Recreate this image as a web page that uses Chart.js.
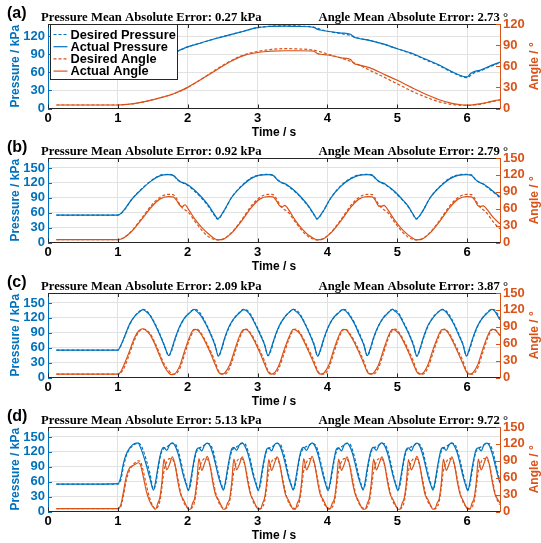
<!DOCTYPE html>
<html>
<head>
<meta charset="utf-8">
<script src="https://cdn.jsdelivr.net/npm/chart.js@4/dist/chart.umd.min.js"></script>
<style>
  html, body { margin: 0; padding: 0; background: #fff; width: 541px; height: 543px; overflow: hidden; }
  canvas { position: absolute; left: 0; }
</style>
</head>
<body>
<canvas id="pa" width="541" height="145" style="top:0px"></canvas>
<canvas id="pb" width="541" height="145" style="top:134px"></canvas>
<canvas id="pc" width="541" height="145" style="top:269px"></canvas>
<canvas id="pd" width="541" height="145" style="top:403px"></canvas>
<script>
// ---- labels / ticks ----
const xTicks = [0, 1, 2, 3, 4, 5, 6];
const pressureTicksA = [0, 30, 60, 90, 120];
const angleTicksA = [0, 30, 60, 90, 120];
const pressureTicks = [0, 30, 60, 90, 120, 150];
const angleTicks = [0, 30, 60, 90, 120, 150];
const panelTags = ['(a)', '(b)', '(c)', '(d)'];
const pressureErrors = ['0.27', '0.92', '2.09', '5.13'];
const angleErrors = ['2.73', '2.79', '3.87', '9.72'];
const seriesNames = ['Desired Pressure', 'Actual Pressure', 'Desired Angle', 'Actual Angle'];

// ---- panel (a) ----
const timeA = [0.12, 0.5, 1.0, 1.2, 1.4, 1.6, 1.8, 2.0, 2.2, 2.4, 2.6, 2.8, 3.0, 3.2, 3.4, 3.6, 3.8, 3.86, 3.9, 4.0,
  4.2, 4.33, 4.38, 4.45, 4.6, 4.8, 5.0, 5.2, 5.4, 5.6, 5.8, 5.95, 6.0, 6.05, 6.1, 6.2, 6.3, 6.47];
const desPressA = [55, 55, 55, 60, 70, 81, 92, 102, 109, 116, 122, 128, 134, 136.5, 137, 136.5, 135, 133, 131, 128,
  124, 121, 119, 116.5, 113, 106.5, 99, 91, 81, 71, 59, 52, 51, 55, 59, 63, 68, 76];
const actPressA = [55, 55, 55, 60, 70, 81, 92, 102, 109, 116, 122, 128, 134, 136, 136.5, 136, 134.5, 131, 130, 128,
  125, 123, 118, 116, 113, 107, 99, 92, 82, 72, 60, 53, 52.5, 58, 61, 64, 69, 77];
const desAngleA = [5, 5, 5, 6.5, 10, 15, 21, 30, 42, 55, 67, 76, 81, 84, 85, 84.5, 83, 81.5, 80.5, 77.5,
  71.5, 67, 65, 62, 54.5, 45, 35, 25, 16.5, 9.5, 5.5, 4.3, 4.3, 4.5, 5, 6, 8.5, 12];
const actAngleA = [5, 5, 5, 6.5, 10, 15, 21, 30, 42, 54, 66, 75, 79.5, 81.5, 82, 82, 81.5, 78, 77, 76,
  72, 69.5, 64, 62, 58, 49, 40, 30, 20.5, 12.5, 7, 5, 4.8, 5, 5.5, 7, 9, 12.8];

// ---- panel (b) ----
const timeB = [0.12, 0.6,
  1.0, 1.08, 1.2, 1.34, 1.48, 1.6, 1.72, 1.79, 1.84, 1.88, 1.92, 1.96, 2.02, 2.1, 2.2, 2.3, 2.38,
  2.43, 2.51, 2.63, 2.77, 2.91, 3.03, 3.15, 3.22, 3.27, 3.31, 3.35, 3.39, 3.45, 3.53, 3.63, 3.73, 3.81,
  3.85, 3.93, 4.05, 4.19, 4.33, 4.45, 4.57, 4.64, 4.69, 4.73, 4.77, 4.81, 4.87, 4.95, 5.05, 5.15, 5.23,
  5.27, 5.35, 5.47, 5.61, 5.75, 5.87, 5.99, 6.06, 6.11, 6.15, 6.19, 6.23, 6.29, 6.37, 6.47];
const desPressB = [55, 55,
  55, 63, 87, 108, 125, 135, 137, 136, 128, 124, 121, 118, 113, 103, 89, 72, 55,
  47, 61, 91, 114, 130, 136, 137, 136, 128, 123.5, 120, 117.5, 112, 103, 89, 72, 55,
  47, 61, 90, 114, 129, 136, 137, 136, 128, 124, 120, 118, 112, 103, 89, 73, 55,
  47, 60, 90, 113, 129, 136, 137, 136, 128, 123, 120, 117, 111, 102, 90];
const actPressB = [55, 55,
  55, 64, 87, 107, 124, 134, 136.5, 135, 129, 123, 121, 119, 114, 105, 91, 74, 57,
  48, 62, 91, 113, 129, 135.5, 136.5, 135, 128, 123, 120.5, 118.5, 113, 104, 90, 73, 56,
  48, 61, 90, 113, 128, 135, 136.5, 135, 129, 123, 121, 119, 113, 104, 90, 74, 56,
  48, 60, 90, 112, 128, 135, 136.5, 135, 128, 123, 120, 118, 112, 103, 92];
const desAngleB = [5, 5,
  5, 8, 21, 43, 66, 80, 85.5, 85, 78, 69, 62, 58, 52, 38, 22, 10, 5.5,
  4.5, 6, 18, 40, 65, 80, 85.5, 85, 78, 69, 62, 58, 52, 38, 22, 10, 5.5,
  4.5, 6, 18, 40, 65, 80, 85.5, 85, 77, 68, 62, 58, 52, 38, 22, 10, 5.5,
  4.5, 6, 18, 40, 65, 80, 85.5, 85, 78, 69, 62, 58, 51, 37, 24];
const actAngleB = [5, 5,
  5, 8, 20, 41, 63, 77, 81.5, 81, 75, 67, 63.5, 67, 57, 42, 27, 15, 7,
  4.7, 6, 17, 38, 62, 77, 81.5, 81, 74, 66, 63, 66, 57, 41, 25, 13, 7,
  4.7, 6, 17, 38, 62, 77, 81.5, 81, 74, 65, 64, 66, 57, 42, 26, 14, 7,
  4.7, 6, 17, 38, 62, 77, 81.5, 81, 75, 66, 64, 65, 58, 45, 33];

// ---- panel (c) ----
const timeC = [0.12, 0.6,
  1.0, 1.04, 1.1, 1.17, 1.24, 1.3, 1.36, 1.4, 1.46, 1.53, 1.6, 1.66,
  1.73, 1.77, 1.82, 1.89, 1.96, 2.03, 2.09, 2.13, 2.19, 2.26, 2.33, 2.39,
  2.44, 2.48, 2.53, 2.6, 2.67, 2.74, 2.8, 2.84, 2.9, 2.97, 3.04, 3.1,
  3.15, 3.19, 3.24, 3.31, 3.38, 3.45, 3.51, 3.55, 3.61, 3.68, 3.75, 3.81,
  3.86, 3.9, 3.95, 4.02, 4.09, 4.16, 4.22, 4.26, 4.32, 4.39, 4.46, 4.52,
  4.57, 4.61, 4.66, 4.73, 4.8, 4.87, 4.93, 4.97, 5.03, 5.1, 5.17, 5.23,
  5.28, 5.32, 5.37, 5.44, 5.51, 5.58, 5.64, 5.68, 5.74, 5.81, 5.88, 5.94,
  5.99, 6.03, 6.08, 6.15, 6.22, 6.29, 6.35, 6.39, 6.47];
const desPressC = [55, 55,
  55, 63, 83, 107, 123, 132, 137, 135, 126, 109, 88, 67,
  44, 54, 77, 103, 120, 131, 137, 136, 127, 109, 88, 67,
  43, 54, 78, 103, 120, 131, 137, 136, 127, 108, 88, 67,
  44, 54, 77, 103, 120, 131, 137, 136, 127, 109, 87, 67,
  43, 54, 77, 104, 120, 131, 137, 136, 126, 109, 88, 67,
  44, 54, 78, 103, 120, 131, 137, 136, 127, 108, 88, 67,
  43, 54, 77, 103, 121, 131, 137, 136, 127, 109, 88, 67,
  44, 54, 77, 103, 120, 131, 137, 136, 119];
const actPressC = [55, 55,
  55, 64, 84, 108, 123, 131, 136.5, 133, 125, 107, 86, 66,
  44, 57, 79, 104, 121, 130, 137, 133, 124, 107, 86, 65,
  43, 56, 80, 105, 120, 130, 136.5, 134, 125, 106, 85, 66,
  44, 57, 79, 104, 120, 131, 137, 133, 125, 107, 86, 65,
  43, 56, 79, 104, 121, 130, 136.5, 134, 124, 107, 85, 66,
  44, 57, 80, 104, 120, 130, 137, 133, 125, 106, 86, 65,
  43, 56, 79, 105, 120, 131, 136.5, 134, 124, 107, 85, 66,
  43, 57, 79, 104, 120, 130, 137, 134, 116];
const desAngleC = [6, 6,
  6, 8, 20, 43, 67, 81, 86, 85, 78, 62, 42, 25,
  12, 7, 6, 17, 43, 69, 84, 86, 79, 64, 46, 29,
  12, 7, 6, 17, 42, 69, 84, 86, 79, 64, 46, 29,
  12, 7, 6, 18, 43, 68, 84, 86, 79, 63, 45, 29,
  12, 7, 6, 17, 43, 69, 84, 86, 78, 64, 46, 29,
  12, 7, 6, 17, 42, 69, 84, 86, 79, 64, 46, 29,
  12, 7, 6, 18, 43, 68, 84, 86, 79, 63, 45, 29,
  12, 7, 6, 17, 43, 69, 84, 86, 74];
const actAngleC = [6, 6,
  6, 10, 26, 48, 71, 83, 86.5, 84, 76, 59, 38, 21,
  8, 5, 7, 22, 49, 73, 85.5, 85, 77, 61, 42, 24,
  10, 6, 8, 22, 48, 73, 85, 85, 77, 61, 42, 24,
  10, 6, 8, 23, 49, 72, 85.5, 84, 77, 60, 41, 24,
  10, 6, 8, 22, 49, 73, 85, 85, 76, 61, 42, 25,
  10, 6, 8, 22, 48, 73, 85.5, 84, 77, 61, 42, 24,
  10, 6, 8, 23, 49, 72, 85, 85, 77, 60, 41, 24,
  10, 6, 8, 22, 49, 73, 85.5, 85, 75];

// ---- panel (d) ----
const timeD = [0.12, 0.6,
  1.0, 1.04, 1.08, 1.12, 1.17, 1.21, 1.25, 1.29, 1.32, 1.36, 1.41, 1.46,
  1.51, 1.54, 1.57, 1.6, 1.63, 1.66, 1.7, 1.74, 1.78, 1.82, 1.86, 1.9, 1.94, 1.98,
  2.01, 2.04, 2.07, 2.1, 2.13, 2.16, 2.2, 2.24, 2.28, 2.32, 2.36, 2.4, 2.44, 2.48,
  2.51, 2.54, 2.57, 2.6, 2.63, 2.66, 2.7, 2.74, 2.78, 2.82, 2.86, 2.9, 2.94, 2.98,
  3.01, 3.04, 3.07, 3.1, 3.13, 3.16, 3.2, 3.24, 3.28, 3.32, 3.36, 3.4, 3.44, 3.48,
  3.51, 3.54, 3.57, 3.6, 3.63, 3.66, 3.7, 3.74, 3.78, 3.82, 3.86, 3.9, 3.94, 3.98,
  4.01, 4.04, 4.07, 4.1, 4.13, 4.16, 4.2, 4.24, 4.28, 4.32, 4.36, 4.4, 4.44, 4.48,
  4.51, 4.54, 4.57, 4.6, 4.63, 4.66, 4.7, 4.74, 4.78, 4.82, 4.86, 4.9, 4.94, 4.98,
  5.01, 5.04, 5.07, 5.1, 5.13, 5.16, 5.2, 5.24, 5.28, 5.32, 5.36, 5.4, 5.44, 5.48,
  5.51, 5.54, 5.57, 5.6, 5.63, 5.66, 5.7, 5.74, 5.78, 5.82, 5.86, 5.9, 5.94, 5.98,
  6.01, 6.04, 6.07, 6.1, 6.13, 6.16, 6.2, 6.24, 6.28, 6.32, 6.36, 6.4, 6.44, 6.47];
const desPressD = [55, 55,
  55, 63, 90, 112, 126, 132, 136, 137, 135, 124, 102, 76,
  45, 54, 80, 106, 121, 127, 130, 134, 137, 136, 124, 102, 77, 56,
  44, 54, 81, 106, 121, 127, 130, 134, 137, 135, 124, 101, 76, 56,
  45, 55, 80, 105, 121, 127, 130, 134, 137, 136, 123, 102, 77, 56,
  44, 54, 80, 106, 122, 127, 130, 133, 137, 136, 124, 102, 76, 55,
  45, 54, 81, 106, 121, 127, 131, 134, 137, 135, 124, 101, 77, 56,
  44, 55, 80, 105, 121, 127, 130, 134, 137, 136, 123, 102, 77, 56,
  45, 54, 80, 106, 121, 128, 130, 134, 137, 136, 124, 102, 76, 55,
  44, 54, 81, 106, 122, 127, 130, 133, 137, 135, 124, 101, 77, 56,
  45, 55, 80, 105, 121, 127, 131, 134, 137, 136, 123, 102, 77, 56,
  44, 54, 80, 106, 121, 127, 130, 134, 137, 136, 124, 102, 77, 60];
const actPressD = [55, 55,
  56, 68, 97, 115, 128, 134, 137, 138, 130, 115, 92, 66,
  43, 60, 86, 109, 125, 129, 123, 134, 138, 132, 117, 95, 71, 53,
  42, 61, 87, 110, 125, 128, 122, 133, 137.5, 132, 116, 94, 70, 52,
  43, 60, 86, 109, 126, 129, 123, 134, 138, 131, 117, 95, 71, 53,
  42, 60, 87, 109, 125, 128, 122, 134, 137.5, 132, 116, 94, 70, 53,
  43, 61, 86, 110, 125, 129, 123, 133, 138, 132, 117, 95, 71, 52,
  42, 60, 86, 109, 126, 128, 122, 134, 137.5, 131, 116, 94, 70, 53,
  43, 60, 87, 109, 125, 129, 123, 134, 138, 132, 117, 95, 71, 52,
  42, 61, 86, 110, 125, 128, 122, 133, 137.5, 132, 116, 94, 70, 53,
  43, 60, 86, 109, 126, 129, 123, 134, 138, 131, 117, 95, 71, 52,
  42, 60, 87, 109, 125, 128, 122, 134, 137.5, 132, 116, 94, 71, 57];
const desAngleD = [5, 5,
  5, 8, 28, 55, 74, 82, 87, 90, 89, 74, 46, 22,
  8, 5, 8, 18, 42, 72, 88, 94, 93, 82, 58, 33, 17, 9,
  6, 5, 8, 18, 43, 72, 88, 94, 93, 81, 57, 33, 17, 9,
  6, 5, 8, 18, 42, 71, 88, 94, 93, 82, 58, 33, 17, 9,
  6, 5, 8, 18, 42, 72, 88, 94, 93, 82, 58, 34, 17, 9,
  6, 5, 8, 18, 43, 72, 87, 94, 93, 82, 57, 33, 17, 9,
  6, 5, 8, 18, 42, 72, 88, 94, 93, 81, 58, 33, 17, 9,
  6, 5, 8, 18, 42, 71, 88, 94, 93, 82, 58, 33, 17, 9,
  6, 5, 8, 18, 43, 72, 88, 94, 93, 82, 58, 34, 17, 9,
  6, 5, 8, 18, 42, 72, 87, 94, 93, 82, 57, 33, 17, 9,
  6, 5, 8, 18, 42, 72, 88, 94, 93, 82, 58, 33, 17, 12];
const actAngleD = [5, 5,
  5, 11, 35, 62, 78, 81, 84, 86.5, 84, 64, 35, 17,
  7, 4, 14, 24, 52, 93, 74, 84, 97, 82, 52, 30, 21, 10,
  4, 4, 15, 24, 53, 94, 73, 85, 98, 81, 51, 29, 21, 10,
  4, 5, 15, 23, 52, 93, 74, 84, 97, 82, 52, 30, 20, 9,
  4, 4, 14, 24, 51, 92, 73, 85, 97, 83, 53, 30, 21, 10,
  4, 4, 15, 24, 52, 94, 74, 84, 98, 82, 52, 29, 21, 10,
  4, 5, 15, 23, 52, 93, 73, 84, 97, 81, 51, 30, 20, 9,
  4, 4, 14, 24, 53, 93, 74, 85, 97, 82, 52, 30, 21, 10,
  4, 4, 15, 24, 52, 92, 74, 84, 98, 83, 53, 29, 21, 10,
  4, 5, 15, 23, 51, 93, 73, 84, 97, 82, 52, 30, 20, 9,
  4, 4, 15, 24, 52, 93, 74, 85, 97, 82, 52, 30, 21, 15];

const BLUE = '#0072BD';
const ORANGE = '#D95319';
const GRID = '#e2e2e2';
const AXIS = '#262626';
const PLOT_H = 84.5;
const PAD_TOP = 24;

Chart.defaults.font.family = '"Liberation Sans", Arial, sans-serif';

// box top edge, inward ticks, panel texts and the legend of panel (a)
const framePlugin = {
  id: 'frame',
  afterDraw(chart, args, o) {
    const { ctx, chartArea: a } = chart;
    const xs = chart.scales.x, yp = chart.scales.yP, ya = chart.scales.yA;
    ctx.save();
    ctx.lineWidth = 1;
    ctx.strokeStyle = AXIS;
    ctx.beginPath();
    ctx.moveTo(a.left, Math.round(a.top) + 0.5);
    ctx.lineTo(a.right, Math.round(a.top) + 0.5);
    xs.ticks.forEach(t => {
      const px = Math.round(xs.getPixelForValue(t.value)) + 0.5;
      ctx.moveTo(px, a.bottom); ctx.lineTo(px, a.bottom - 4);
      ctx.moveTo(px, a.top); ctx.lineTo(px, a.top + 4);
    });
    ctx.stroke();
    ctx.strokeStyle = BLUE;
    ctx.beginPath();
    yp.ticks.forEach(t => {
      const py = Math.round(yp.getPixelForValue(t.value)) + 0.5;
      ctx.moveTo(a.left, py); ctx.lineTo(a.left + 4, py);
    });
    ctx.stroke();
    ctx.strokeStyle = ORANGE;
    ctx.beginPath();
    ya.ticks.forEach(t => {
      const py = Math.round(ya.getPixelForValue(t.value)) + 0.5;
      ctx.moveTo(a.right, py); ctx.lineTo(a.right - 4, py);
    });
    ctx.stroke();

    // titles above the plot
    ctx.fillStyle = '#000';
    ctx.textBaseline = 'alphabetic';
    ctx.font = 'bold 12.7px "Liberation Serif", "Times New Roman", serif';
    ctx.textAlign = 'left';
    ctx.fillText(o.leftTitle, 41, a.top - 3);
    ctx.textAlign = 'right';
    ctx.fillText(o.rightTitle, 508, a.top - 3);
    ctx.font = 'bold 16px "Liberation Sans", Arial, sans-serif';
    ctx.textAlign = 'left';
    ctx.fillText(o.tag, 7, a.top - 6);

    // right axis title, reads bottom to top
    ctx.save();
    ctx.translate(535, (a.top + a.bottom) / 2);
    ctx.rotate(-Math.PI / 2);
    ctx.font = 'bold 12px "Liberation Sans", Arial, sans-serif';
    ctx.fillStyle = ORANGE;
    ctx.textAlign = 'center';
    ctx.textBaseline = 'middle';
    ctx.fillText('Angle / °', 0, 0);
    ctx.restore();

    if (o.legend) {
      const bx = a.left + 2.5, by = a.top + 0.5, bw = 127, bh = 55;
      ctx.fillStyle = '#fff';
      ctx.fillRect(bx, by, bw, bh);
      ctx.strokeStyle = AXIS;
      ctx.lineWidth = 1;
      ctx.strokeRect(bx, by, bw, bh);
      const colors = [BLUE, BLUE, ORANGE, ORANGE];
      const dashed = [true, false, true, false];
      ctx.font = 'bold 12.8px "Liberation Sans", Arial, sans-serif';
      ctx.textAlign = 'left';
      ctx.textBaseline = 'middle';
      seriesNames.forEach((name, i) => {
        const y = by + 10 + i * 12.2;
        ctx.strokeStyle = colors[i];
        ctx.lineWidth = 1.2;
        ctx.setLineDash(dashed[i] ? [3, 2] : []);
        ctx.beginPath();
        ctx.moveTo(bx + 3, y); ctx.lineTo(bx + 17, y);
        ctx.stroke();
        ctx.setLineDash([]);
        ctx.fillStyle = '#000';
        ctx.fillText(name, bx + 20, y + 0.5);
      });
    }
    ctx.restore();
  }
};

function pts(time, vals) {
  return time.map((t, i) => ({ x: t, y: vals[i] }));
}

function drawPanel(id, k, time, desP, actP, desA, actA, pMax, pTicks, aMax, aTicks) {
  const ds = (label, vals, axis, color, dashed) => ({
    label: label,
    data: pts(time, vals),
    yAxisID: axis,
    borderColor: color,
    borderWidth: 1.2,
    borderDash: dashed ? [3, 2] : [],
    borderJoinStyle: 'round',
    pointRadius: 0,
    fill: false,
    cubicInterpolationMode: 'monotone'
  });
  const tickFont = { size: 13, weight: 'bold' };
  const canvas = document.getElementById(id);
  new Chart(canvas, {
    type: 'line',
    data: {
      datasets: [
        ds(seriesNames[3], actA, 'yA', ORANGE, false),
        ds(seriesNames[2], desA, 'yA', ORANGE, true),
        ds(seriesNames[1], actP, 'yP', BLUE, false),
        ds(seriesNames[0], desP, 'yP', BLUE, true)
      ]
    },
    options: {
      responsive: false,
      animation: false,
      events: [],
      layout: { padding: { top: PAD_TOP, left: 0, right: 0, bottom: 0 } },
      plugins: {
        legend: { display: false },
        tooltip: { enabled: false },
        frame: {
          tag: panelTags[k],
          leftTitle: 'Pressure Mean Absolute Error: ' + pressureErrors[k] + ' kPa',
          rightTitle: 'Angle Mean Absolute Error: ' + angleErrors[k] + ' °',
          legend: k === 0
        }
      },
      scales: {
        x: {
          type: 'linear',
          min: 0,
          max: 6.47,
          afterBuildTicks: s => { s.ticks = xTicks.map(v => ({ value: v })); },
          afterFit: s => { s.height = canvas.height - PAD_TOP - PLOT_H; },
          grid: { color: GRID, drawTicks: false },
          border: { color: AXIS, width: 1 },
          ticks: { color: '#000', font: tickFont, padding: 2, maxRotation: 0, autoSkip: false },
          title: { display: true, text: 'Time / s', color: '#000', font: { size: 12, weight: 'bold' }, padding: { top: 0, bottom: 5 } }
        },
        yP: {
          position: 'left',
          min: 0,
          max: pMax,
          afterBuildTicks: s => { s.ticks = pTicks.map(v => ({ value: v })); },
          afterFit: s => { s.width = 48; },
          grid: { color: GRID, drawTicks: false },
          border: { color: BLUE, width: 1 },
          ticks: { color: BLUE, font: tickFont, padding: 3, autoSkip: false },
          title: { display: true, text: 'Pressure / kPa', color: BLUE, font: { size: 12, weight: 'bold' }, padding: { top: 8, bottom: 0 } }
        },
        yA: {
          position: 'right',
          min: 0,
          max: aMax,
          afterBuildTicks: s => { s.ticks = aTicks.map(v => ({ value: v })); },
          afterFit: s => { s.width = 41; },
          grid: { drawOnChartArea: false, drawTicks: false },
          border: { color: ORANGE, width: 1 },
          ticks: { color: ORANGE, font: tickFont, padding: 3, autoSkip: false }
        }
      }
    },
    plugins: [framePlugin]
  });
}

drawPanel('pa', 0, timeA, desPressA, actPressA, desAngleA, actAngleA, 140, pressureTicksA, 120, angleTicksA);
drawPanel('pb', 1, timeB, desPressB, actPressB, desAngleB, actAngleB, 170, pressureTicks, 150, angleTicks);
drawPanel('pc', 2, timeC, desPressC, actPressC, desAngleC, actAngleC, 170, pressureTicks, 150, angleTicks);
drawPanel('pd', 3, timeD, desPressD, actPressD, desAngleD, actAngleD, 170, pressureTicks, 150, angleTicks);
</script>
</body>
</html>
